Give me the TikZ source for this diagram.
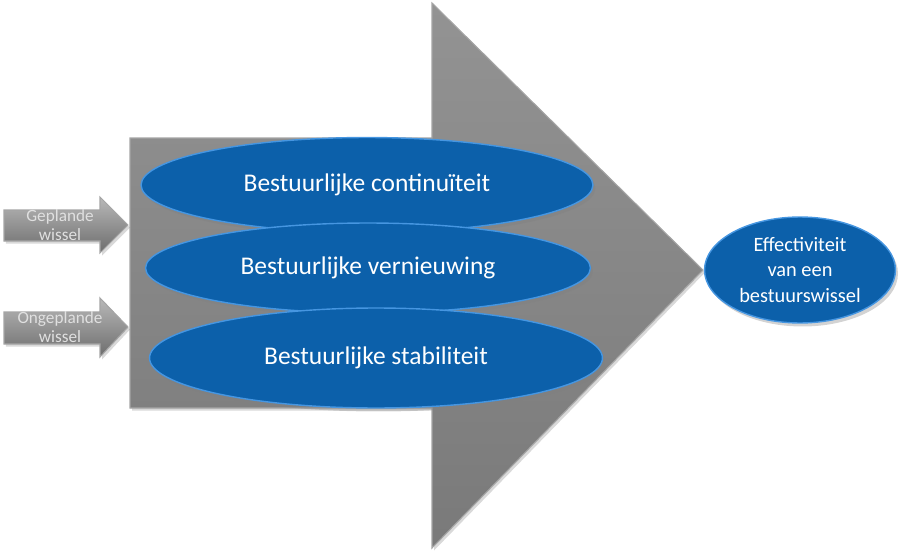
\documentclass[tikz,border=0pt]{standalone}
\usepackage{fontspec}
\setmainfont{Carlito}
\usetikzlibrary{shapes.geometric,shadows}
\definecolor{ovalblue}{RGB}{12,96,170}
\definecolor{ovalrim}{RGB}{70,150,225}
\definecolor{bodygrey}{RGB}{128,128,128}
\definecolor{rimgrey}{RGB}{165,165,165}

\begin{document}
\begin{tikzpicture}[x=0.02cm,y=-0.02cm,
  oval/.style={ellipse,draw=ovalrim,line width=0.8pt,fill=ovalblue,text=white,inner sep=0pt,
    font=\fontsize{14.5}{17}\selectfont,drop shadow={opacity=0.35,shadow xshift=0.5mm,shadow yshift=-0.7mm}},
  goal/.style={oval,align=center,font=\fontsize{11.6}{14.5}\selectfont},
  tag/.style={align=center,text=white!88!black,inner sep=0pt,font=\fontsize{9.8}{11}\selectfont},
  shaft/.style={draw=rimgrey,line width=0.6pt,top color=gray!55,bottom color=gray!85!black,
    drop shadow={opacity=0.3,shadow xshift=0.4mm,shadow yshift=-0.5mm}}
]
\useasboundingbox (0,0) rectangle (900,551);
% big arrow
\draw[shaft,top color=bodygrey!85,bottom color=bodygrey!95!black]
  (130,138) -- (432,138) -- (432,3) -- (703,270) -- (432,548) -- (432,408) -- (130,408) -- cycle;
% small input arrows
\draw[shaft] (4,210) -- (100,210) -- (100,197) -- (128,225) -- (100,253) -- (100,241) -- (4,241) -- cycle;
\draw[shaft] (4,312) -- (100,312) -- (100,298) -- (128,327) -- (100,357) -- (100,344) -- (4,344) -- cycle;
\node[tag] (planned) at (60,225) {Geplande\\wissel};
\node[tag] (unplanned) at (60,327) {Ongeplande\\wissel};
% three factors
\node[oval,minimum width=9.04cm,minimum height=1.9cm] (cont) at (367,185) {Bestuurlijke continuïteit};
\node[oval,minimum width=8.9cm,minimum height=1.8cm] (renew) at (368,268) {Bestuurlijke vernieuwing};
\node[oval,minimum width=9.06cm,minimum height=2.0cm] (stab) at (376,358) {Bestuurlijke stabiliteit};
% outcome
\node[goal,minimum width=3.82cm,minimum height=2.12cm] (effect) at (800,270) {Effectiviteit\\van een\\bestuurswissel};
\end{tikzpicture}
\end{document}
